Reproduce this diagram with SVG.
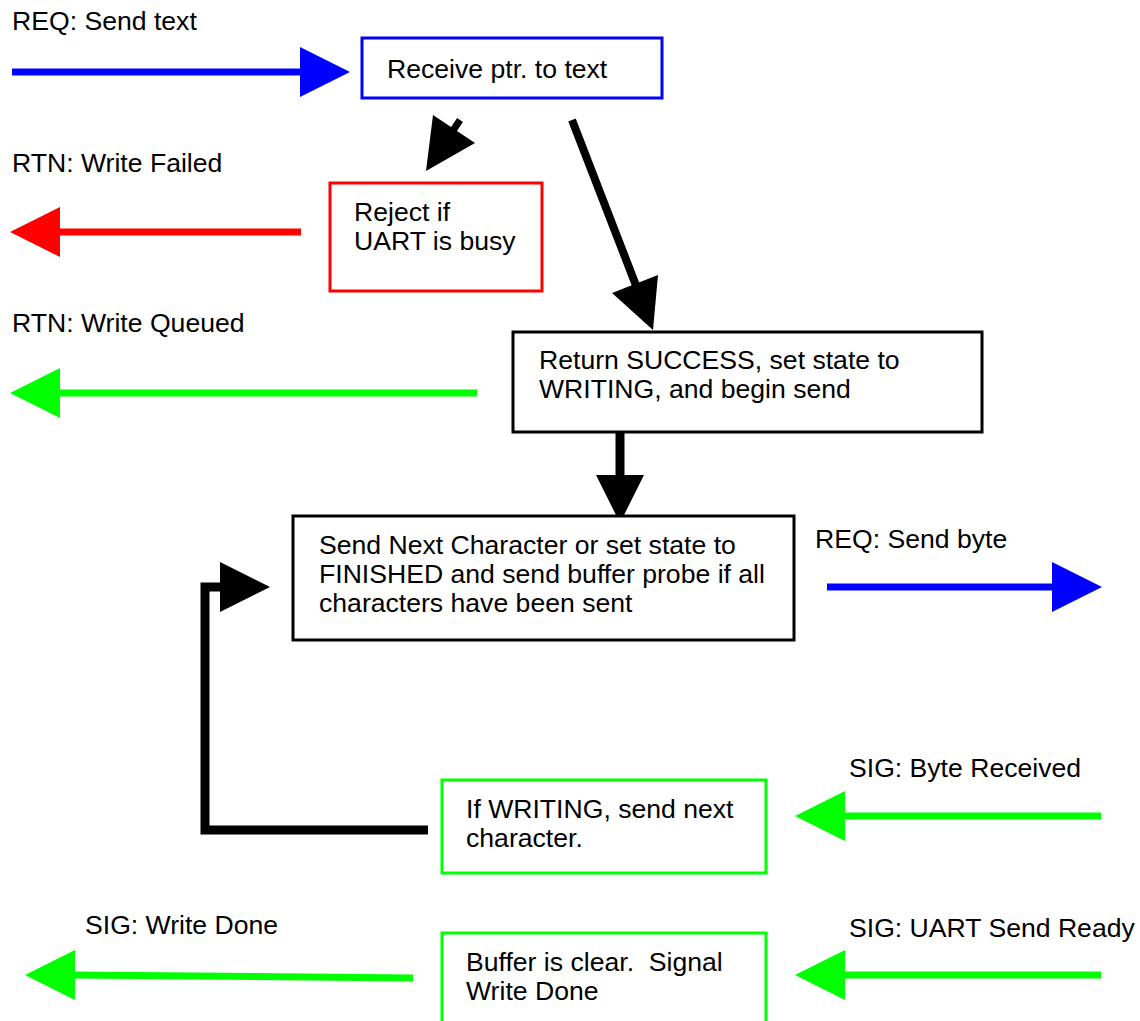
<svg xmlns="http://www.w3.org/2000/svg" width="1140" height="1021" viewBox="0 0 1140 1021">
  <style>
    text { font-family: "Liberation Sans", Arial, sans-serif; font-size: 26.6px; fill: #000; }
    .box { fill: #fff; stroke-width: 3; }
    .blue { stroke: #0000ff; }
    .red { stroke: #ff0000; }
    .green { stroke: #00ff00; }
    .black { stroke: #000; }
    .shaft { fill: none; stroke-width: 7; stroke-linecap: butt; }
    .shaft-k { fill: none; stroke: #000; stroke-width: 9; stroke-linejoin: miter; }
    .head-b { fill: #0000ff; }
    .head-r { fill: #ff0000; }
    .head-g { fill: #00ff00; }
    .head-k { fill: #000; }
  </style>
  <rect width="1140" height="1021" fill="#fff"/>

  <!-- external message labels -->
  <g id="labels">
    <text x="12" y="30">REQ: Send text</text>
    <text x="12" y="172">RTN: Write Failed</text>
    <text x="12" y="332">RTN: Write Queued</text>
    <text x="815" y="548">REQ: Send byte</text>
    <text x="849" y="777">SIG: Byte Received</text>
    <text x="85" y="934">SIG: Write Done</text>
    <text x="849" y="937">SIG: UART Send Ready</text>
  </g>

  <!-- connectors -->
  <g id="connectors">
    <!-- REQ: Send text -->
    <line class="shaft blue" x1="12" y1="72" x2="302" y2="72"/>
    <polygon class="head-b" points="300,47 350,72 300,97"/>
    <!-- RTN: Write Failed -->
    <line class="shaft red" x1="301" y1="232" x2="58" y2="232"/>
    <polygon class="head-r" points="60,207 10,232 60,257"/>
    <!-- RTN: Write Queued -->
    <line class="shaft green" x1="477" y1="393" x2="58" y2="393"/>
    <polygon class="head-g" points="60,368 10,393 60,418"/>
    <!-- REQ: Send byte -->
    <line class="shaft blue" x1="827" y1="587" x2="1054" y2="587"/>
    <polygon class="head-b" points="1052,562 1102,587 1052,612"/>
    <!-- SIG: Byte Received -->
    <line class="shaft green" x1="1101" y1="816" x2="843" y2="816"/>
    <polygon class="head-g" points="845,791 795,816 845,841"/>
    <!-- SIG: UART Send Ready -->
    <line class="shaft green" x1="1101" y1="975" x2="843" y2="975"/>
    <polygon class="head-g" points="845,950 795,975 845,1000"/>
    <!-- SIG: Write Done -->
    <line class="shaft green" x1="413" y1="978" x2="73" y2="975"/>
    <polygon class="head-g" points="75,950 25,975 75,1000"/>

    <!-- receive -> reject -->
    <line class="shaft-k" style="stroke-width:7" x1="460" y1="120" x2="452" y2="132"/>
    <polygon class="head-k" points="433,115 475,143 426,171"/>
    <!-- receive -> success -->
    <line class="shaft-k" style="stroke-width:8" x1="572" y1="120" x2="637" y2="288"/>
    <polygon class="head-k" points="612,293 658,275 653,330"/>
    <!-- success -> send next -->
    <line class="shaft-k" x1="620" y1="432" x2="620" y2="477"/>
    <polygon class="head-k" points="596,475 644,475 620,523"/>
    <!-- if writing -> send next (loop) -->
    <polyline class="shaft-k" points="428,830 205,830 205,587 222,587"/>
    <polygon class="head-k" points="220,562 270,587 220,612"/>
  </g>

  <g id="receive">
    <rect class="box blue" x="362" y="38" width="300" height="60"/>
    <text x="387" y="78">Receive ptr. to text</text>
  </g>

  <g id="reject">
    <rect class="box red" x="330" y="183" width="212" height="108"/>
    <text x="354" y="221">Reject if</text>
    <text x="354" y="250">UART is busy</text>
  </g>

  <g id="success">
    <rect class="box black" x="513" y="332" width="469" height="100"/>
    <text x="539" y="369">Return SUCCESS, set state to</text>
    <text x="539" y="398">WRITING, and begin send</text>
  </g>

  <g id="send-next">
    <rect class="box black" x="293" y="516" width="501" height="124"/>
    <text x="319" y="554">Send Next Character or set state to</text>
    <text x="319" y="583">FINISHED and send buffer probe if all</text>
    <text x="319" y="612">characters have been sent</text>
  </g>

  <g id="if-writing">
    <rect class="box green" x="442" y="780" width="324" height="93"/>
    <text x="466" y="818">If WRITING, send next</text>
    <text x="466" y="847">character.</text>
  </g>

  <g id="buffer-clear">
    <rect class="box green" x="442" y="933" width="324" height="120"/>
    <text x="466" y="971" xml:space="preserve">Buffer is clear.  Signal</text>
    <text x="466" y="1000">Write Done</text>
  </g>
</svg>
